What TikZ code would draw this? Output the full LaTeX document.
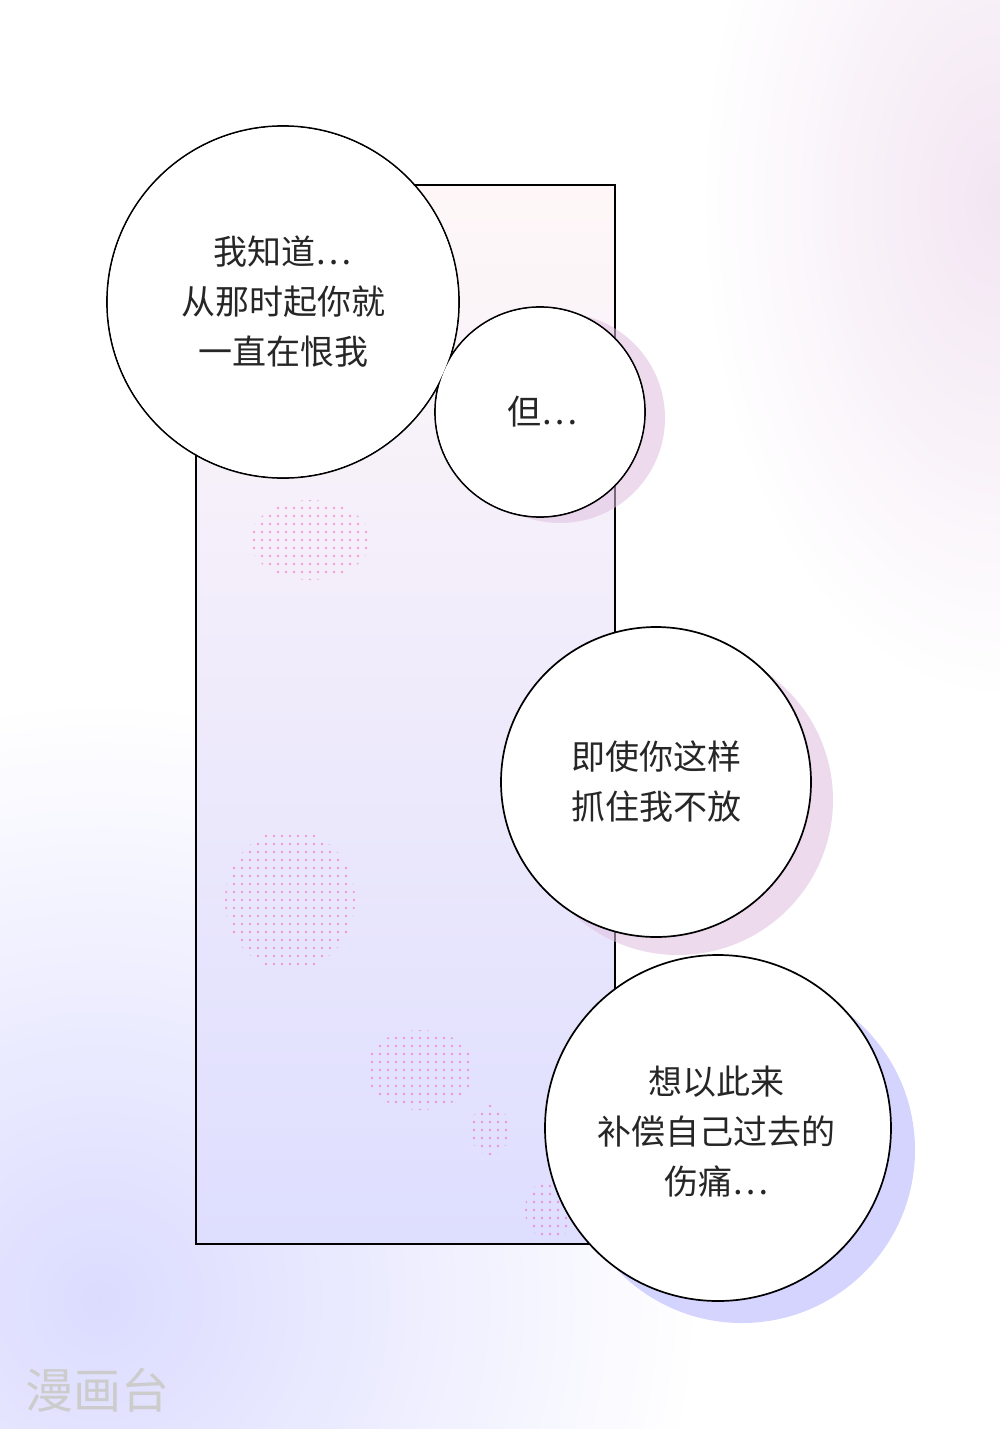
\documentclass[tikz,border=0pt]{standalone}
\usepackage{fontspec}
\newfontfamily\cjk{Noto Sans CJK SC}
\begin{document}
\begin{tikzpicture}[x=1pt,y=-1pt,
  bubble/.style={draw=black,line width=1.7pt},
  bfill/.style={fill=white},
  shadowc/.style={fill=violet!25,opacity=0.55},
  txt/.style={font=\cjk\fontsize{34}{50}\selectfont,align=center,text=black!85}]
\useasboundingbox (0,0) rectangle (1000,1429);
\fill[white] (0,0) rectangle (1000,1429);
\begin{scope}
\clip (0,0) rectangle (1000,1429);
\shade[inner color=blue!14,outer color=white] (-500,700) rectangle (700,1900);
\shade[inner color=violet!10,outer color=white] (700,-300) rectangle (1300,700);
\end{scope}
% panel
\shade[top color=pink!12!white,bottom color=blue!13!white] (196,185) rectangle (615,1244);
\foreach \cx/\cy/\rx/\ry in {310/540/60/40, 290/900/65/70, 420/1070/55/40, 490/1130/20/25, 550/1210/25/30}{
  \begin{scope}
  \clip (\cx,\cy) ellipse [x radius=\rx, y radius=\ry];
  \foreach \i in {-80,-72,...,80}{\foreach \j in {-80,-72,...,80}{
    \fill[magenta!60,opacity=0.6] (\cx+\i,\cy+\j) circle (1.4);}}
  \end{scope}}
\draw[line width=2.5pt] (196,185) rectangle (615,1244);
% shadows
\fill[shadowc] (560,418) circle (105);
\fill[shadowc] (678,800) circle (155);
\fill[shadowc,fill=blue!30] (742,1150) circle (173);
% bubbles
\coordinate (c1) at (283,302); \coordinate (c2) at (540,412);
\draw[bubble] (c1) circle (176);
\draw[bubble] (c2) circle (105);
\fill[bfill] (c1) circle (175.1);
\fill[bfill] (c2) circle (104.1);
\node[txt] (t1) at (283,302) {我知道…\\从那时起你就\\一直在恨我};
\node[txt] (t2) at (542,412) {但…};
\draw[bubble,bfill] (656,782) circle (155);
\node[txt] (t3) at (656,782) {即使你这样\\抓住我不放};
\draw[bubble,bfill] (718,1128) circle (173);
\node[txt] (t4) at (716,1132) {想以此来\\补偿自己过去的\\伤痛…};
\node[font=\cjk\fontsize{48}{50}\selectfont,text=black!20] (wm) at (97,1390) {漫画台};
\end{tikzpicture}
\end{document}
